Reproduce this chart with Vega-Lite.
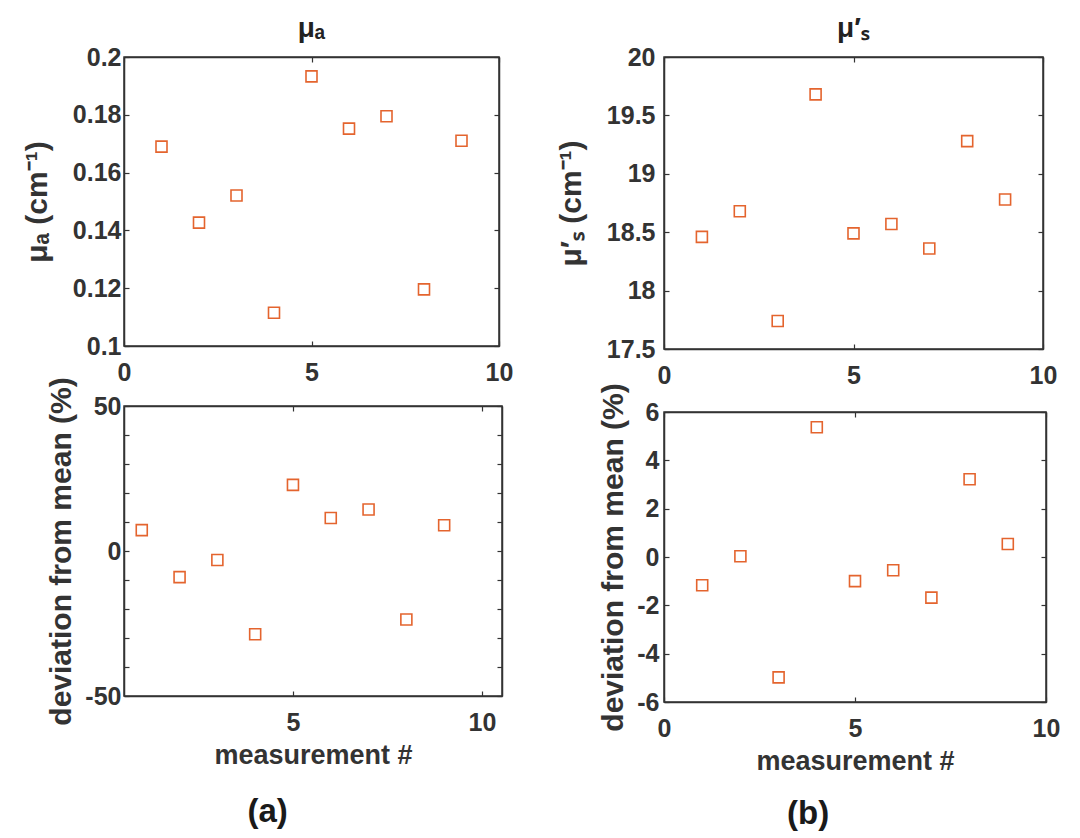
{
  "$schema": "https://vega.github.io/schema/vega-lite/v6.json",
  "background": "white",
  "padding": {"left": 21, "top": 14, "right": 0, "bottom": 0},
  "datasets": {
    "ua": [
      {"m": 1, "v": 0.169}, {"m": 2, "v": 0.1427}, {"m": 3, "v": 0.1521},
      {"m": 4, "v": 0.1115}, {"m": 5, "v": 0.1933}, {"m": 6, "v": 0.1752},
      {"m": 7, "v": 0.1795}, {"m": 8, "v": 0.1196}, {"m": 9, "v": 0.171}
    ],
    "us": [
      {"m": 1, "v": 18.46}, {"m": 2, "v": 18.68}, {"m": 3, "v": 17.74},
      {"m": 4, "v": 19.68}, {"m": 5, "v": 18.49}, {"m": 6, "v": 18.57},
      {"m": 7, "v": 18.36}, {"m": 8, "v": 19.28}, {"m": 9, "v": 18.78}
    ],
    "ua_dev": [
      {"m": 1, "v": 7.2}, {"m": 2, "v": -9.0}, {"m": 3, "v": -3.1},
      {"m": 4, "v": -28.7}, {"m": 5, "v": 22.8}, {"m": 6, "v": 11.4},
      {"m": 7, "v": 14.3}, {"m": 8, "v": -23.6}, {"m": 9, "v": 8.9}
    ],
    "us_dev": [
      {"m": 1, "v": -1.17}, {"m": 2, "v": 0.03}, {"m": 3, "v": -4.98},
      {"m": 4, "v": 5.37}, {"m": 5, "v": -1.0}, {"m": 6, "v": -0.55},
      {"m": 7, "v": -1.68}, {"m": 8, "v": 3.22}, {"m": 9, "v": 0.54}
    ]
  },
  "config": {
    "font": "Liberation Sans",
    "view": {"stroke": "#333333", "strokeWidth": 1.5},
    "axis": {
      "grid": false,
      "labelFont": "Liberation Sans",
      "labelFontSize": 25,
      "labelFontWeight": "bold",
      "labelColor": "#333333",
      "titleFont": "Liberation Sans",
      "titleFontSize": 30,
      "titleFontWeight": "bold",
      "titleColor": "#333333",
      "domainColor": "#333333",
      "domainWidth": 1.5,
      "tickColor": "#333333",
      "tickWidth": 1.2,
      "tickSize": -5,
      "labelFlush": false,
      "labelOverlap": false,
      "labelExpr": "replace(datum.label, '−', '-')"
    },
    "axisY": {"labelPadding": 8},
    "axisX": {"labelPadding": 19, "titleFontSize": 27},
    "title": {"font": "Liberation Sans", "fontWeight": "bold", "color": "#222222"}
  },
  "hconcat": [
    {
      "title": {"text": "(a)", "orient": "bottom", "anchor": "middle", "fontSize": 33, "offset": 27, "color": "#1a1a1a"},
      "bounds": "flush",
      "spacing": 60,
      "vconcat": [
        {
          "title": {"text": "μₐ", "fontSize": 28, "offset": 2},
          "width": 375,
          "height": 289,
          "data": {"name": "ua"},
          "layer": [
            {
              "mark": {"type": "point", "shape": "square", "filled": false, "size": 121, "strokeWidth": 1.6, "color": "#e4642e", "opacity": 1},
              "encoding": {
                "x": {"field": "m", "type": "quantitative", "scale": {"domain": [0, 10], "nice": false}, "axis": {"values": [0, 5, 10], "title": null}},
                "y": {"field": "v", "type": "quantitative", "scale": {"domain": [0.1, 0.2], "nice": false, "zero": false}, "axis": {"values": [0.1, 0.12, 0.14, 0.16, 0.18, 0.2], "format": "~g", "title": "μₐ (cm⁻¹)", "titlePadding": 20}}
              }
            },
            {
              "mark": {"type": "point", "opacity": 0},
              "encoding": {
                "x": {"field": "m", "type": "quantitative", "scale": {"domain": [0, 10], "nice": false}, "axis": {"orient": "top", "values": [0, 5, 10], "labels": false, "title": null}},
                "y": {"field": "v", "type": "quantitative", "scale": {"domain": [0.1, 0.2], "nice": false, "zero": false}, "axis": {"orient": "right", "values": [0.1, 0.12, 0.14, 0.16, 0.18, 0.2], "labels": false, "title": null}}
              }
            }
          ],
          "resolve": {"axis": {"x": "independent", "y": "independent"}}
        },
        {
          "width": 378,
          "height": 290,
          "data": {"name": "ua_dev"},
          "layer": [
            {
              "mark": {"type": "point", "shape": "square", "filled": false, "size": 121, "strokeWidth": 1.6, "color": "#e4642e", "opacity": 1},
              "encoding": {
                "x": {"field": "m", "type": "quantitative", "scale": {"domain": [0.53, 10.53], "nice": false, "zero": false}, "axis": {"values": [5, 10], "title": "measurement #", "titlePadding": 7}},
                "y": {"field": "v", "type": "quantitative", "scale": {"domain": [-50, 50], "nice": false}, "axis": {"values": [-50, -40, -30, -20, -10, 0, 10, 20, 30, 40, 50], "labelExpr": "datum.value % 50 === 0 ? replace(datum.label, '−', '-') : ''", "title": "deviation from mean (%)", "titlePadding": 8}}
              }
            },
            {
              "mark": {"type": "point", "opacity": 0},
              "encoding": {
                "x": {"field": "m", "type": "quantitative", "scale": {"domain": [0.53, 10.53], "nice": false, "zero": false}, "axis": {"orient": "top", "values": [5, 10], "labels": false, "title": null}},
                "y": {"field": "v", "type": "quantitative", "scale": {"domain": [-50, 50], "nice": false}, "axis": {"orient": "right", "values": [-50, -40, -30, -20, -10, 0, 10, 20, 30, 40, 50], "labels": false, "title": null}}
              }
            }
          ],
          "resolve": {"axis": {"x": "independent", "y": "independent"}}
        }
      ]
    },
    {
      "title": {"text": "(b)", "orient": "bottom", "anchor": "middle", "fontSize": 33, "offset": 23, "color": "#1a1a1a"},
      "bounds": "flush",
      "spacing": 63,
      "vconcat": [
        {
          "title": {"text": "μ′ₛ", "fontSize": 28, "offset": 2},
          "width": 379,
          "height": 292,
          "data": {"name": "us"},
          "layer": [
            {
              "mark": {"type": "point", "shape": "square", "filled": false, "size": 121, "strokeWidth": 1.6, "color": "#e4642e", "opacity": 1},
              "encoding": {
                "x": {"field": "m", "type": "quantitative", "scale": {"domain": [0, 10], "nice": false}, "axis": {"values": [0, 5, 10], "title": null}},
                "y": {"field": "v", "type": "quantitative", "scale": {"domain": [17.5, 20], "nice": false, "zero": false}, "axis": {"values": [17.5, 18, 18.5, 19, 19.5, 20], "format": "~g", "title": "μ′ₛ (cm⁻¹)", "titlePadding": 20, "labelPadding": 14}}
              }
            },
            {
              "mark": {"type": "point", "opacity": 0},
              "encoding": {
                "x": {"field": "m", "type": "quantitative", "scale": {"domain": [0, 10], "nice": false}, "axis": {"orient": "top", "values": [0, 5, 10], "labels": false, "title": null}},
                "y": {"field": "v", "type": "quantitative", "scale": {"domain": [17.5, 20], "nice": false, "zero": false}, "axis": {"orient": "right", "values": [17.5, 18, 18.5, 19, 19.5, 20], "labels": false, "title": null}}
              }
            }
          ],
          "resolve": {"axis": {"x": "independent", "y": "independent"}}
        },
        {
          "width": 382,
          "height": 290,
          "data": {"name": "us_dev"},
          "layer": [
            {
              "mark": {"type": "point", "shape": "square", "filled": false, "size": 121, "strokeWidth": 1.6, "color": "#e4642e", "opacity": 1},
              "encoding": {
                "x": {"field": "m", "type": "quantitative", "scale": {"domain": [0, 10], "nice": false}, "axis": {"values": [0, 5, 10], "title": "measurement #", "titlePadding": 7}},
                "y": {"field": "v", "type": "quantitative", "scale": {"domain": [-6, 6], "nice": false}, "axis": {"values": [-6, -4, -2, 0, 2, 4, 6], "title": "deviation from mean (%)", "titlePadding": 8, "labelPadding": 10}}
              }
            },
            {
              "mark": {"type": "point", "opacity": 0},
              "encoding": {
                "x": {"field": "m", "type": "quantitative", "scale": {"domain": [0, 10], "nice": false}, "axis": {"orient": "top", "values": [0, 5, 10], "labels": false, "title": null}},
                "y": {"field": "v", "type": "quantitative", "scale": {"domain": [-6, 6], "nice": false}, "axis": {"orient": "right", "values": [-6, -4, -2, 0, 2, 4, 6], "labels": false, "title": null}}
              }
            }
          ],
          "resolve": {"axis": {"x": "independent", "y": "independent"}}
        }
      ]
    }
  ],
  "spacing": 41
}
